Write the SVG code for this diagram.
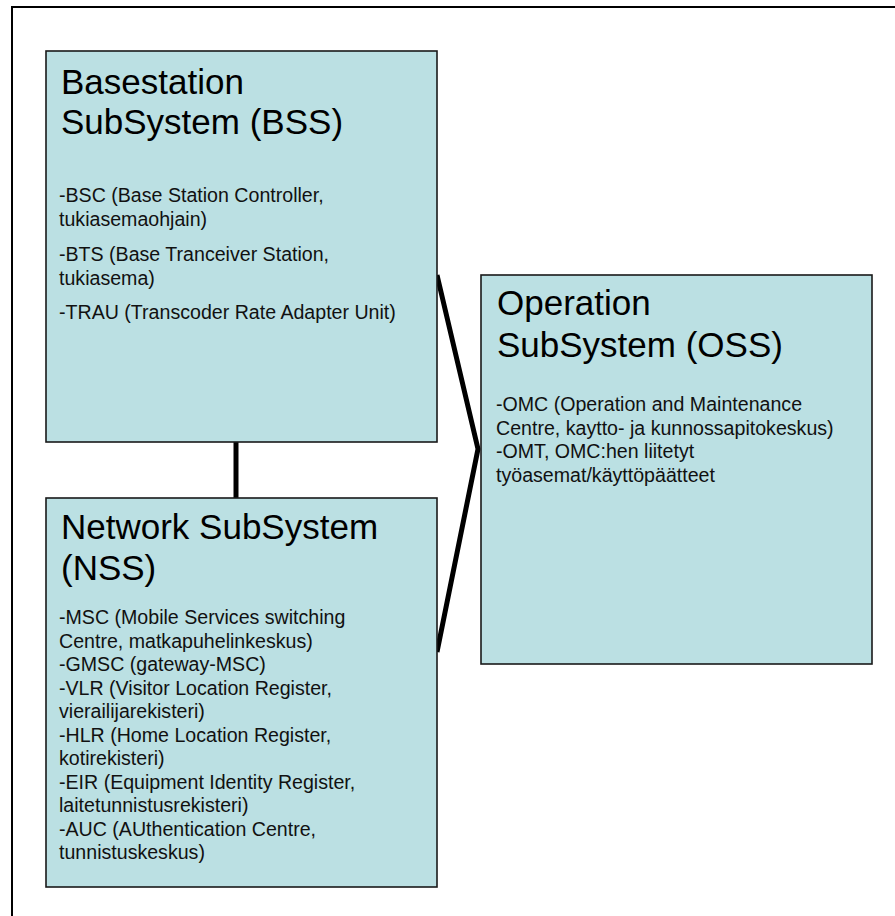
<svg xmlns="http://www.w3.org/2000/svg" width="895" height="916" viewBox="0 0 895 916">
  <style>
    .frame { fill: #ffffff; stroke: #000000; stroke-width: 2; }
    .box { fill: #bbe0e3; stroke: #1a1a1a; stroke-width: 1.6; }
    .title { font-family: "Liberation Sans", Arial, sans-serif; font-size: 35px; fill: #000000; }
    .body { font-family: "Liberation Sans", Arial, sans-serif; font-size: 19.6px; fill: #111111; }
    .link { fill: none; stroke: #000000; stroke-width: 5; stroke-linejoin: miter; }
  </style>

  <rect class="frame" x="12" y="7" width="900" height="930"/>

  <!-- connectors -->
  <g id="connectors">
    <line class="link" x1="236" y1="442" x2="236" y2="498"/>
    <polyline class="link" points="437,275 478,449 437,652"/>
  </g>

  <!-- Basestation SubSystem -->
  <g id="bss">
    <rect class="box" x="46" y="51" width="391" height="391"/>
    <text class="title" x="61" y="94">Basestation</text>
    <text class="title" x="61" y="134">SubSystem (BSS)</text>
    <text class="body" x="59" y="202">-BSC (Base Station Controller,</text>
    <text class="body" x="59" y="226">tukiasemaohjain)</text>
    <text class="body" x="59" y="261">-BTS (Base Tranceiver Station,</text>
    <text class="body" x="59" y="285">tukiasema)</text>
    <text class="body" x="59" y="319">-TRAU (Transcoder Rate Adapter Unit)</text>
  </g>

  <!-- Network SubSystem -->
  <g id="nss">
    <rect class="box" x="46" y="498" width="391" height="389"/>
    <text class="title" x="61" y="539">Network SubSystem</text>
    <text class="title" x="61" y="580">(NSS)</text>
    <text class="body" x="59" y="624">-MSC (Mobile Services switching</text>
    <text class="body" x="59" y="647.5">Centre, matkapuhelinkeskus)</text>
    <text class="body" x="59" y="671">-GMSC (gateway-MSC)</text>
    <text class="body" x="59" y="694.5">-VLR (Visitor Location Register,</text>
    <text class="body" x="59" y="718">vierailijarekisteri)</text>
    <text class="body" x="59" y="741.5">-HLR (Home Location Register,</text>
    <text class="body" x="59" y="765">kotirekisteri)</text>
    <text class="body" x="59" y="788.5">-EIR (Equipment Identity Register,</text>
    <text class="body" x="59" y="812">laitetunnistusrekisteri)</text>
    <text class="body" x="59" y="835.5">-AUC (AUthentication Centre,</text>
    <text class="body" x="59" y="859">tunnistuskeskus)</text>
  </g>

  <!-- Operation SubSystem -->
  <g id="oss">
    <rect class="box" x="481" y="275" width="391" height="389"/>
    <text class="title" x="497" y="315">Operation</text>
    <text class="title" x="497" y="357">SubSystem (OSS)</text>
    <text class="body" x="496" y="411">-OMC (Operation and Maintenance</text>
    <text class="body" x="496" y="434.5">Centre, kaytto- ja kunnossapitokeskus)</text>
    <text class="body" x="496" y="458">-OMT, OMC:hen liitetyt</text>
    <text class="body" x="496" y="481.5">työasemat/käyttöpäätteet</text>
  </g>
</svg>
